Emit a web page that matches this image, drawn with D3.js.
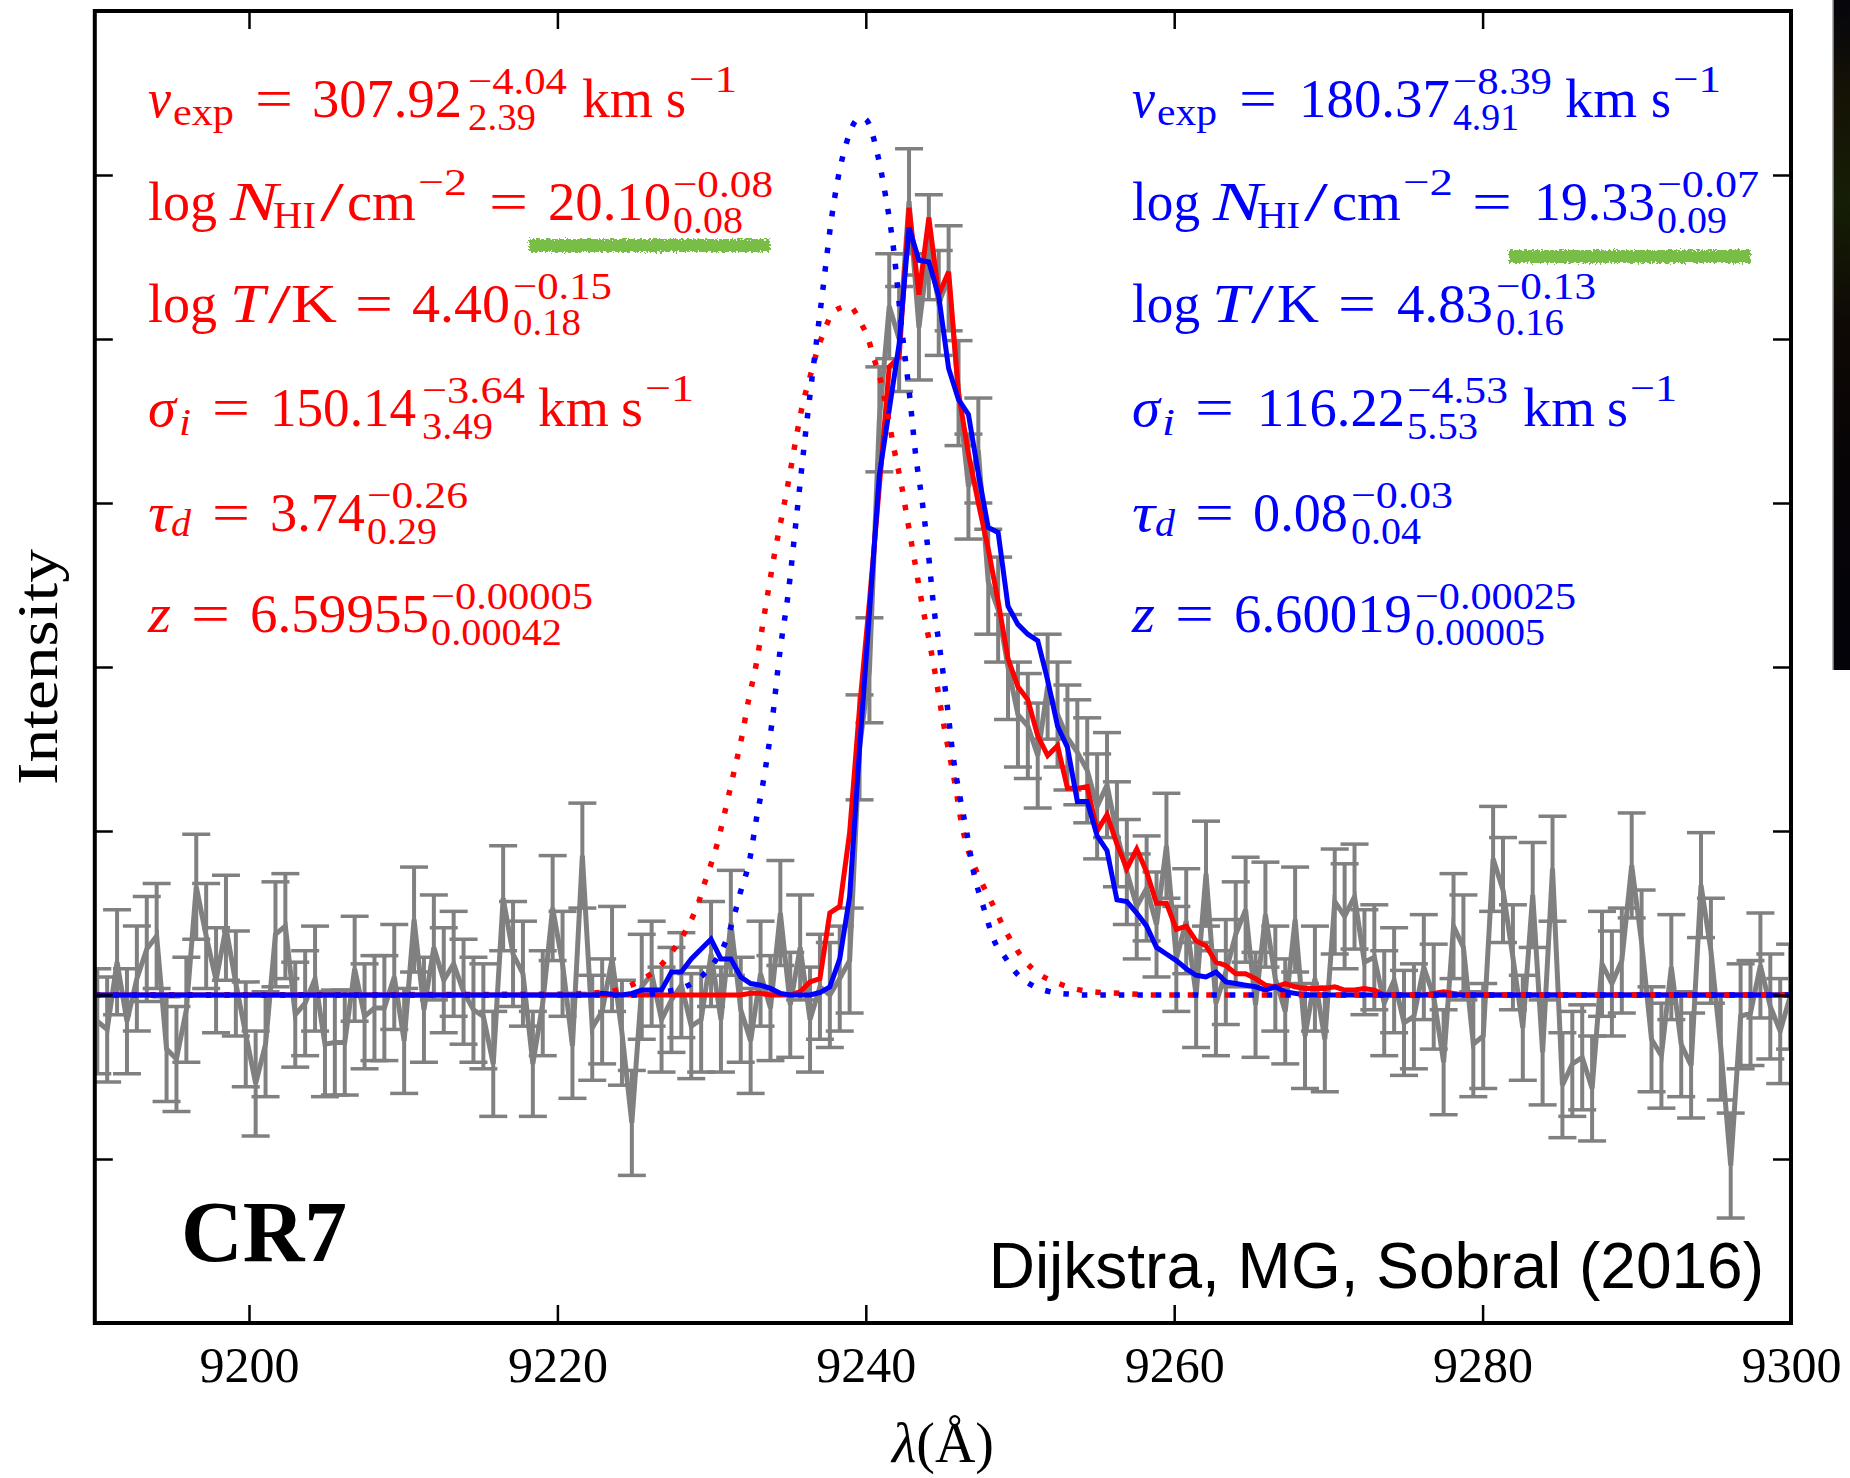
<!DOCTYPE html>
<html>
<head>
<meta charset="utf-8">
<script src="https://cdn.jsdelivr.net/npm/d3@7"></script>
<style>
  html, body { margin: 0; padding: 0; background: #fff; }
  svg { display: block; }
</style>
</head>
<body>
<svg id="chart" width="1850" height="1478"></svg>
<script>
// ---- data ----
// spectrum sampling: first pixel and pixel width in Angstrom
var lamStart = 9190.16, lamStep = 0.642;

// observed flux (grey), one value per pixel
var flux = [
  -0.16, -0.21, 0.20, -0.16, 0.10, 0.28, 0.36, -0.33, -0.39, -0.09,
  0.66, 0.36, 0.09, 0.41, 0.07, -0.24, -0.54, -0.30, 0.37, 0.42,
  -0.12, -0.05, 0.10, -0.30, -0.29, -0.29, 0.16, -0.13, -0.08, -0.08,
  0.11, -0.28, 0.46, -0.09, 0.29, 0.09, 0.19, 0.02, -0.09, -0.13,
  -0.42, 0.59, 0.25, 0.13, -0.42, -0.05, 0.53, 0.19, -0.31, 0.85,
  -0.20, -0.10, 0.22, -0.23, -0.78, 0.05, 0.13, -0.15, -0.03, 0.06,
  -0.19, -0.15, 0.25, -0.15, 0.44, -0.09, -0.28, 0.13, -0.08, 0.50,
  -0.06, 0.29, -0.15, 0.05, 0.00, 0.10, 0.21, 1.51, 1.98, 3.51,
  4.20, 4.00, 4.84, 4.07, 4.56, 4.22, 4.37, 3.67, 3.10, 3.32,
  2.52, 2.35, 2.00, 1.71, 1.64, 1.46, 1.88, 1.71, 1.57, 1.48,
  1.37, 1.15, 1.28, 0.98, 0.75, 0.54, 0.65, 0.43, 0.91, 0.22,
  0.45, 0.00, 0.74, -0.05, 0.14, 0.37, 0.52, -0.06, 0.49, 0.10,
  -0.10, 0.46, -0.25, 0.10, -0.27, 0.57, 0.48, 0.60, 0.20, 0.23,
  -0.05, 0.09, -0.17, -0.13, 0.17, -0.01, -0.41, 0.42, 0.29, -0.30,
  -0.25, 0.83, 0.64, 0.23, -0.20, 0.61, -0.35, 0.77, -0.55, -0.42,
  -0.38, -0.57, 0.19, 0.07, 0.21, 0.79, 0.32, -0.27, -0.37, 0.17,
  -0.30, -0.43, 0.67, 0.27, -0.32, -1.04, -0.13, -0.11, 0.18, -0.07,
  -0.22, -0.01
];
var fluxErr = 0.32;

// best-fit models on the same pixels
var modelRed = [
  0, 0, 0, 0, 0, 0, 0, 0, 0, 0,
  0, 0, 0, 0, 0, 0, 0, 0, 0, 0,
  0, 0, 0, 0, 0, 0, 0, 0, 0, 0,
  0, 0, 0, 0, 0, 0, 0, 0, 0, 0,
  0, 0, 0, 0, 0, 0, 0, 0, 0, 0,
  0, 0, 0, 0, 0, 0, 0, 0, 0, 0,
  0, 0, 0, 0, 0, 0, 0.01, 0.01, 0, 0,
  0, 0.02, 0.08, 0.10, 0.50, 0.54, 0.99, 1.75, 2.40, 3.10,
  3.83, 3.89, 4.80, 4.27, 4.74, 4.27, 4.41, 3.67, 3.30, 3.00,
  2.72, 2.40, 2.05, 1.88, 1.80, 1.58, 1.46, 1.52, 1.26, 1.26,
  1.27, 1.00, 1.10, 0.92, 0.77, 0.89, 0.75, 0.56, 0.56, 0.40,
  0.42, 0.33, 0.30, 0.20, 0.18, 0.13, 0.13, 0.10, 0.06, 0.05,
  0.07, 0.05, 0.04, 0.04, 0.04, 0.05, 0.03, 0.03, 0.04, 0.03,
  0, 0, 0, 0, 0, 0.01, 0.02, 0.01, 0, 0,
  0, 0, 0, 0, 0, 0, 0, 0, 0, 0,
  0, 0, 0, 0, 0, 0, 0, 0, 0, 0,
  0, 0, 0, 0, 0, 0, 0, 0, 0, 0,
  0, 0
];
var modelBlue = [
  0, 0, 0, 0, 0, 0, 0, 0, 0, 0,
  0, 0, 0, 0, 0, 0, 0, 0, 0, 0,
  0, 0, 0, 0, 0, 0, 0, 0, 0, 0,
  0, 0, 0, 0, 0, 0, 0, 0, 0, 0,
  0, 0, 0, 0, 0, 0, 0, 0, 0, 0,
  0, 0.01, 0.005, 0, 0.01, 0.03, 0.03, 0.03, 0.14, 0.14,
  0.22, 0.28, 0.34, 0.22, 0.22, 0.11, 0.07, 0.06, 0.04, 0.01,
  0, 0, 0, 0.015, 0.05, 0.22, 0.60, 1.50, 2.33, 3.17,
  3.57, 3.97, 4.68, 4.48, 4.47, 4.26, 3.82, 3.63, 3.54, 3.18,
  2.85, 2.82, 2.37, 2.26, 2.20, 2.16, 1.92, 1.64, 1.51, 1.18,
  1.18, 0.97, 0.88, 0.58, 0.57, 0.50, 0.42, 0.29, 0.25, 0.21,
  0.16, 0.12, 0.11, 0.14, 0.08, 0.07, 0.06, 0.05, 0.03, 0.05,
  0.02, 0.01, 0, 0, 0, 0, 0, 0, 0, 0,
  0, 0, 0, 0, 0, 0, 0, 0, 0, 0,
  0, 0, 0, 0, 0, 0, 0, 0, 0, 0,
  0, 0, 0, 0, 0, 0, 0, 0, 0, 0,
  0, 0, 0, 0, 0, 0, 0, 0, 0, 0,
  0, 0
];

// intrinsic profiles (dotted)
var intrRedLam = [9190, 9220, 9223.3, 9224.5, 9225.6, 9226.6, 9227.4, 9228.06, 9228.64, 9229.14,
  9229.5, 9229.9, 9230.3, 9230.87, 9231.4, 9231.95, 9232.4, 9232.9, 9233.3, 9233.7,
  9234.1, 9234.6, 9235.04, 9235.47, 9235.95, 9236.27, 9236.92, 9237.35, 9237.94, 9238.93,
  9239.67, 9240.16, 9240.5, 9240.9, 9241.4, 9241.83, 9242.33, 9242.75, 9243.18, 9243.6,
  9244.05, 9244.5, 9244.9, 9245.35, 9245.8, 9246.2, 9246.65, 9247.2, 9247.8, 9248.4,
  9248.9, 9249.56, 9250.3, 9251.2, 9252.26, 9253.45, 9254.65, 9256.5, 9259, 9300];
var intrRedVal = [0, 0.005, 0.02, 0.05, 0.10, 0.17, 0.26, 0.35, 0.45, 0.56,
  0.67, 0.78, 0.90, 1.12, 1.34, 1.57, 1.80, 2.02, 2.25, 2.48,
  2.70, 2.94, 3.16, 3.39, 3.62, 3.73, 3.95, 4.06, 4.17, 4.20,
  4.10, 4.00, 3.89, 3.77, 3.55, 3.33, 3.10, 2.87, 2.64, 2.41,
  2.19, 1.96, 1.73, 1.50, 1.28, 1.05, 0.88, 0.75, 0.63, 0.52,
  0.42, 0.31, 0.21, 0.13, 0.08, 0.04, 0.02, 0.01, 0, 0];
var intrBlueLam = [9190, 9225, 9227, 9228.3, 9229.3, 9230.1, 9230.75, 9231.2, 9231.85, 9232.5,
  9232.9, 9233.35, 9233.9, 9234.44, 9234.97, 9235.5, 9236.17, 9236.6, 9237.2, 9237.8,
  9238.2, 9238.76, 9239.2, 9239.7, 9240.0, 9240.8, 9241.25, 9241.8, 9242.3, 9242.87,
  9243.25, 9243.6, 9244.05, 9244.4, 9244.77, 9245.25, 9245.67, 9246.1, 9246.55, 9246.97,
  9247.62, 9248.38, 9249.03, 9249.8, 9250.76, 9251.95, 9253.25, 9254.4, 9300];
var intrBlueVal = [0, 0, 0.02, 0.05, 0.11, 0.19, 0.29, 0.40, 0.62, 0.84,
  1.07, 1.30, 1.65, 2.10, 2.45, 2.91, 3.49, 3.83, 4.29, 4.75,
  4.98, 5.20, 5.31, 5.35, 5.34, 5.11, 4.89, 4.55, 4.09, 3.63,
  3.28, 3.05, 2.70, 2.37, 2.13, 1.79, 1.45, 1.21, 0.99, 0.76,
  0.54, 0.32, 0.23, 0.13, 0.06, 0.02, 0.005, 0, 0];

var xTicks = [9200, 9220, 9240, 9260, 9280, 9300];
var yTicks = [-2, -1, 0, 1, 2, 3, 4, 5, 6];

// ---- chart ----
var svg = d3.select("#chart");
var M = {l: 94.8, r: 1791, t: 11, b: 1323};
var x = d3.scaleLinear().domain([9190, 9300]).range([M.l, M.r]);
var y = d3.scaleLinear().domain([-2, 6]).range([M.b, M.t]);
var SERIF = "'Liberation Serif', 'Times New Roman', serif";

var defs = svg.append("defs");
defs.append("clipPath").attr("id", "plotclip")
  .append("rect").attr("x", M.l).attr("y", M.t).attr("width", M.r - M.l).attr("height", M.b - M.t);
var rough = defs.append("filter").attr("id", "rough")
  .attr("x", "-5%").attr("y", "-80%").attr("width", "110%").attr("height", "260%");
rough.append("feTurbulence").attr("type", "fractalNoise").attr("baseFrequency", 0.45)
  .attr("numOctaves", 2).attr("seed", 4).attr("result", "noise");
rough.append("feDisplacementMap").attr("in", "SourceGraphic").attr("in2", "noise")
  .attr("scale", 7).attr("xChannelSelector", "R").attr("yChannelSelector", "G");
var strip = defs.append("linearGradient").attr("id", "strip").attr("x1", 0).attr("y1", 0).attr("x2", 0).attr("y2", 1);
[["0%", "#05050c"], ["14%", "#161205"], ["30%", "#151e06"], ["48%", "#0f0905"], ["70%", "#070406"], ["100%", "#03030a"]]
  .forEach(function (s) { strip.append("stop").attr("offset", s[0]).attr("stop-color", s[1]); });

var spec = d3.range(flux.length).map(function (i) {
  return {lam: lamStart + i * lamStep, v: flux[i], r: modelRed[i], b: modelBlue[i]};
});

var plot = svg.append("g").attr("clip-path", "url(#plotclip)");

// error bars
var eb = plot.append("g").attr("stroke", "#808080");
eb.selectAll("line.bar").data(spec).join("line").attr("class", "bar")
  .attr("x1", function (d) { return x(d.lam); }).attr("x2", function (d) { return x(d.lam); })
  .attr("y1", function (d) { return y(d.v - fluxErr); }).attr("y2", function (d) { return y(d.v + fluxErr); })
  .attr("stroke-width", 4);
[-1, 1].forEach(function (s) {
  eb.selectAll("line.cap" + (s > 0 ? "t" : "b")).data(spec).join("line").attr("class", "cap" + (s > 0 ? "t" : "b"))
    .attr("x1", function (d) { return x(d.lam) - 14; }).attr("x2", function (d) { return x(d.lam) + 14; })
    .attr("y1", function (d) { return y(d.v + s * fluxErr); }).attr("y2", function (d) { return y(d.v + s * fluxErr); })
    .attr("stroke-width", 3.5);
});

plot.append("path").datum(spec)
  .attr("d", d3.line().x(function (d) { return x(d.lam); }).y(function (d) { return y(d.v); }))
  .attr("fill", "none").attr("stroke", "#808080").attr("stroke-width", 5).attr("stroke-linejoin", "miter");

plot.append("path").datum(spec)
  .attr("d", d3.line().x(function (d) { return x(d.lam); }).y(function (d) { return y(d.r); }))
  .attr("fill", "none").attr("stroke", "#ff0000").attr("stroke-width", 5);
plot.append("path").datum(spec)
  .attr("d", d3.line().x(function (d) { return x(d.lam); }).y(function (d) { return y(d.b); }))
  .attr("fill", "none").attr("stroke", "#0000ff").attr("stroke-width", 5);

function dotted(lams, vals, color) {
  var pts = lams.map(function (l, i) { return [l, vals[i]]; });
  plot.append("path").datum(pts)
    .attr("d", d3.line().curve(d3.curveMonotoneX)
      .x(function (d) { return x(d[0]); }).y(function (d) { return y(d[1]); }))
    .attr("fill", "none").attr("stroke", color).attr("stroke-width", 5.5)
    .attr("stroke-dasharray", "5.5 13");
}
dotted(intrRedLam, intrRedVal, "#ff0000");
dotted(intrBlueLam, intrBlueVal, "#0000ff");

// frame and ticks
svg.append("rect").attr("x", M.l).attr("y", M.t).attr("width", M.r - M.l).attr("height", M.b - M.t)
  .attr("fill", "none").attr("stroke", "#000").attr("stroke-width", 4);

function axis(gen, tx, ty) {
  var g = svg.append("g").attr("transform", "translate(" + tx + "," + ty + ")").call(gen);
  g.select(".domain").remove();
  g.selectAll(".tick line").attr("stroke", "#000").attr("stroke-width", 2.5);
  return g;
}
var gxb = axis(d3.axisBottom(x).tickValues(xTicks).tickSize(-18).tickFormat(d3.format("d")), 0, M.b);
gxb.attr("font-family", SERIF).attr("font-size", 50);
gxb.selectAll(".tick text").attr("y", 59).attr("dy", 0).attr("fill", "#000");
axis(d3.axisTop(x).tickValues(xTicks).tickSize(-18).tickFormat(""), 0, M.t);
axis(d3.axisLeft(y).tickValues(yTicks).tickSize(-18).tickFormat(""), M.l, 0);
axis(d3.axisRight(y).tickValues(yTicks).tickSize(-18).tickFormat(""), M.r, 0);

// axis labels
svg.append("text").attr("x", 943).attr("y", 1462).attr("text-anchor", "middle")
  .attr("font-family", SERIF).attr("font-size", 56).attr("fill", "#000")
  .call(function (t) {
    t.append("tspan").attr("font-style", "italic").text("λ");
    t.append("tspan").text("(Å)");
  });
svg.append("text").attr("transform", "translate(57,667) rotate(-90)").attr("text-anchor", "middle")
  .attr("font-family", SERIF).attr("font-size", 58).attr("textLength", 236).attr("lengthAdjust", "spacingAndGlyphs")
  .attr("fill", "#000").text("Intensity");

// fit-parameter labels: [text, left, right, kind]
var kinds = {
  mi: {size: 54, it: true, dy: 0}, rm: {size: 54, it: false, dy: 0},
  sup: {size: 38, it: false, dy: -23}, sub: {size: 38, it: false, dy: 13},
  usup: {size: 38, it: false, dy: -25}, srm: {size: 38, it: false, dy: 8},
  smi: {size: 38, it: true, dy: 9}, smid: {size: 38, it: true, dy: 5}
};
var redLabels = [
  {b: 117, t: [["v",148,171,"mi"],["exp",173,234,"srm"],["=",255,293,"rm"],["307.92",312,462,"rm"],["−4.04",468,567,"sup"],["2.39",468,536,"sub"],["km",582,653,"rm"],["s",666,686,"rm"],["−1",689,737,"usup"]]},
  {b: 220, t: [["log",148,217,"rm"],["N",230,278,"mi"],["HI",273,316,"srm"],["/",320,344,"rm"],["cm",347,416,"rm"],["−2",418,467,"usup"],["=",489,528,"rm"],["20.10",548,671,"rm"],["−0.08",673,773,"sup"],["0.08",673,743,"sub"]]},
  {b: 322, t: [["log",148,217,"rm"],["T",230,265,"mi"],["/",268,291,"rm"],["K",291,337,"rm"],["=",355,393,"rm"],["4.40",412,510,"rm"],["−0.15",513,612,"sup"],["0.18",513,581,"sub"]]},
  {b: 426, t: [["σ",148,176,"mi"],["i",179,191,"smi"],["=",212,250,"rm"],["150.14",270,416,"rm"],["−3.64",422,525,"sup"],["3.49",422,493,"sub"],["km",538,609,"rm"],["s",621,643,"rm"],["−1",645,694,"usup"]]},
  {b: 531, t: [["τ",148,171,"mi"],["d",171,191,"smid"],["=",212,250,"rm"],["3.74",270,365,"rm"],["−0.26",367,468,"sup"],["0.29",367,437,"sub"]]},
  {b: 632, t: [["z",148,171,"mi"],["=",191,230,"rm"],["6.59955",250,429,"rm"],["−0.00005",431,593,"sup"],["0.00042",431,562,"sub"]]}
];
var blueLabels = [
  {b: 117, t: [["v",1132,1155,"mi"],["exp",1157,1217,"srm"],["=",1239,1277,"rm"],["180.37",1299,1450,"rm"],["−8.39",1453,1552,"sup"],["4.91",1453,1519,"sub"],["km",1565,1637,"rm"],["s",1651,1671,"rm"],["−1",1673,1721,"usup"]]},
  {b: 220, t: [["log",1132,1200,"rm"],["N",1213,1262,"mi"],["HI",1257,1300,"srm"],["/",1304,1328,"rm"],["cm",1332,1401,"rm"],["−2",1403,1453,"usup"],["=",1472,1512,"rm"],["19.33",1534,1655,"rm"],["−0.07",1657,1759,"sup"],["0.09",1657,1727,"sub"]]},
  {b: 322, t: [["log",1132,1200,"rm"],["T",1212,1249,"mi"],["/",1251,1274,"rm"],["K",1277,1319,"rm"],["=",1338,1376,"rm"],["4.83",1397,1493,"rm"],["−0.13",1496,1596,"sup"],["0.16",1496,1564,"sub"]]},
  {b: 426, t: [["σ",1132,1160,"mi"],["i",1162,1175,"smi"],["=",1195,1234,"rm"],["116.22",1257,1405,"rm"],["−4.53",1407,1508,"sup"],["5.53",1407,1478,"sub"],["km",1523,1595,"rm"],["s",1607,1628,"rm"],["−1",1630,1677,"usup"]]},
  {b: 531, t: [["τ",1132,1155,"mi"],["d",1155,1175,"smid"],["=",1195,1234,"rm"],["0.08",1253,1348,"rm"],["−0.03",1351,1453,"sup"],["0.04",1351,1421,"sub"]]},
  {b: 632, t: [["z",1132,1155,"mi"],["=",1175,1214,"rm"],["6.60019",1234,1412,"rm"],["−0.00025",1415,1576,"sup"],["0.00005",1415,1545,"sub"]]}
];
function drawLabels(rows, color) {
  var g = svg.append("g").attr("font-family", SERIF).attr("fill", color);
  rows.forEach(function (row) {
    row.t.forEach(function (tok) {
      var k = kinds[tok[3]];
      g.append("text").attr("x", tok[1]).attr("y", row.b + k.dy)
        .attr("font-size", k.size).attr("font-style", k.it ? "italic" : "normal")
        .attr("textLength", tok[2] - tok[1]).attr("lengthAdjust", "spacingAndGlyphs")
        .text(tok[0]);
    });
  });
}
drawLabels(redLabels, "#ff0000");
drawLabels(blueLabels, "#0000ff");

// hand-drawn green underlines
[[529, 770, 245.5], [1509, 1751, 256.5]].forEach(function (u) {
  svg.append("rect").attr("x", u[0]).attr("y", u[2] - 6.5).attr("width", u[1] - u[0]).attr("height", 13)
    .attr("fill", "#78bd44").attr("filter", "url(#rough)");
});

svg.append("text").attr("x", 181).attr("y", 1261).attr("font-family", SERIF).attr("font-weight", "bold")
  .attr("font-size", 86).attr("textLength", 166).attr("lengthAdjust", "spacingAndGlyphs").attr("fill", "#000").text("CR7");
svg.append("text").attr("x", 1764).attr("y", 1288).attr("text-anchor", "end")
  .attr("font-family", "'Liberation Sans', Arial, sans-serif").attr("font-size", 64).attr("fill", "#000")
  .text("Dijkstra, MG, Sobral (2016)");

// edge of the neighbouring panel
svg.append("rect").attr("x", 1833).attr("y", 0).attr("width", 17).attr("height", 670).attr("fill", "url(#strip)");
svg.append("line").attr("x1", 1833).attr("x2", 1833).attr("y1", 0).attr("y2", 670).attr("stroke", "#9a9a9a").attr("stroke-width", 1.5);
</script>
</body>
</html>
